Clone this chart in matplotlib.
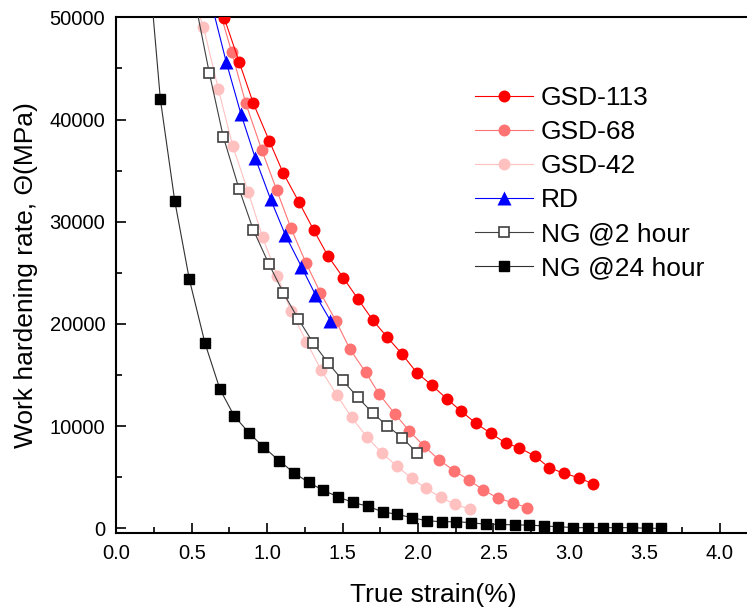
import matplotlib
matplotlib.use("Agg")
import matplotlib.pyplot as plt
from matplotlib.ticker import MultipleLocator

plt.rcParams['font.family'] = ['Liberation Sans', 'DejaVu Sans']

# true strain (%) / work hardening rate (MPa)
gsd113_x = [0.62, 0.716, 0.815, 0.908, 1.014, 1.105, 1.209, 1.308, 1.403, 1.504, 1.604,
            1.699, 1.796, 1.895, 1.991, 2.092, 2.190, 2.286, 2.384, 2.481, 2.583,
            2.669, 2.775, 2.869, 2.967, 3.064, 3.161]
gsd113_y = [54800, 49900, 45600, 41590, 37900, 34800, 31960, 29190, 26640, 24520, 22390,
            20380, 18690, 17030, 15230, 13990, 12680, 11450, 10270, 9300, 8320,
            7890, 7070, 5930, 5380, 4950, 4330]

gsd68_x = [0.67, 0.765, 0.858, 0.964, 1.063, 1.158, 1.257, 1.353, 1.456, 1.549, 1.653,
           1.743, 1.847, 1.942, 2.039, 2.141, 2.238, 2.337, 2.432, 2.531, 2.627, 2.720]
gsd68_y = [51400, 46580, 41590, 37020, 33100, 29350, 25960, 23040, 20280, 17520, 15260,
           13110, 11180, 9520, 8050, 6680, 5640, 4730, 3750, 2940, 2500, 2020]

gsd42_x = [0.48, 0.577, 0.676, 0.771, 0.875, 0.970, 1.067, 1.158, 1.260, 1.357, 1.463,
           1.560, 1.659, 1.759, 1.858, 1.958, 2.052, 2.150, 2.245, 2.344]
gsd42_y = [53200, 49080, 42990, 37440, 32880, 28470, 24690, 21260, 18260, 15490, 13010,
           10840, 8960, 7390, 6100, 4890, 3910, 3030, 2350, 1860]

rd_x = [0.63, 0.728, 0.826, 0.922, 1.022, 1.121, 1.227, 1.320, 1.419]
rd_y = [51400, 45660, 40540, 36190, 32220, 28680, 25600, 22840, 20320]

ng2_x = [0.523, 0.616, 0.709, 0.813, 0.908, 1.012, 1.107, 1.207, 1.306, 1.405, 1.500,
         1.600, 1.700, 1.796, 1.896, 1.991]
ng2_y = [51500, 44580, 38320, 33240, 29200, 25840, 23040, 20460, 18110, 16150, 14480,
         12820, 11260, 10020, 8850, 7410]

ng24_x = [0.196, 0.292, 0.387, 0.484, 0.588, 0.687, 0.780, 0.881, 0.974, 1.078, 1.176,
          1.274, 1.370, 1.470, 1.567, 1.666, 1.765, 1.862, 1.962, 2.057, 2.156,
          2.251, 2.351, 2.450, 2.543, 2.642, 2.737, 2.834, 2.929, 3.029, 3.128,
          3.223, 3.320, 3.419, 3.515, 3.608]
ng24_y = [58400, 41980, 32060, 24360, 18100, 13600, 11030, 9300, 7990, 6620, 5450,
          4490, 3730, 3070, 2530, 2160, 1610, 1360, 1030, 740, 640,
          640, 550, 390, 390, 320, 320, 220, 160, 60, 60,
          60, 60, 60, 0, 0]

fig = plt.figure(figsize=(7.47, 6.14), dpi=100)
ax = fig.add_axes([0.1557, 0.1313, 0.8483, 0.8405])

lw = 0.8
ax.plot(gsd42_x, gsd42_y, '-o', color='#ffc0c0', lw=lw, ms=8.6, mec='none',
        label='GSD-42', zorder=2)
ax.plot(gsd68_x, gsd68_y, '-o', color='#ff7373', lw=lw, ms=8.6, mec='none',
        label='GSD-68', zorder=3)
ax.plot(gsd113_x, gsd113_y, '-o', color='#ff0000', lw=lw, ms=8.6, mec='none',
        label='GSD-113', zorder=4)
ax.plot(rd_x, rd_y, '-^', color='#0000ff', lw=lw, ms=10, mec='none',
        label='RD', zorder=5)
ax.plot(ng2_x, ng2_y, '-s', color='#404040', lw=lw, ms=7.5, mfc='white',
        mec='#404040', mew=1.2, label='NG @2 hour', zorder=6)
ax.plot(ng24_x, ng24_y, '-s', color='#303030', lw=lw, ms=7.5, mfc='black',
        mec='black', label='NG @24 hour', zorder=7)

ax.set_xlim(0, 4.2)
ax.set_ylim(-500, 50000)
ax.xaxis.set_major_locator(MultipleLocator(0.5))
ax.xaxis.set_minor_locator(MultipleLocator(0.25))
ax.yaxis.set_major_locator(MultipleLocator(10000))
ax.yaxis.set_minor_locator(MultipleLocator(5000))
ax.xaxis.set_major_formatter(plt.FormatStrFormatter('%.1f'))

ax.tick_params(which='both', direction='in', top=False, right=False, width=1.2,
               labelsize=14.5)
ax.tick_params(which='major', length=7, pad=8)
ax.tick_params(which='minor', length=4)
for s in ax.spines.values():
    s.set_linewidth(1.5)

ax.set_xlabel('True strain(%)', fontsize=19, labelpad=14)
ax.set_ylabel('Work hardening rate, Θ(MPa)', fontsize=19, labelpad=8)

h, l = ax.get_legend_handles_labels()
order = ['GSD-113', 'GSD-68', 'GSD-42', 'RD', 'NG @2 hour', 'NG @24 hour']
hs = [h[l.index(o)] for o in order]
ax.legend(hs, order, loc='upper left', bbox_to_anchor=(475 / 747, 1 - 86 / 614),
          bbox_transform=fig.transFigure, frameon=False, fontsize=19,
          handlelength=2.2, handletextpad=0.3, labelspacing=0.38,
          borderpad=0, borderaxespad=0)

fig.savefig('out.png', dpi=100)
